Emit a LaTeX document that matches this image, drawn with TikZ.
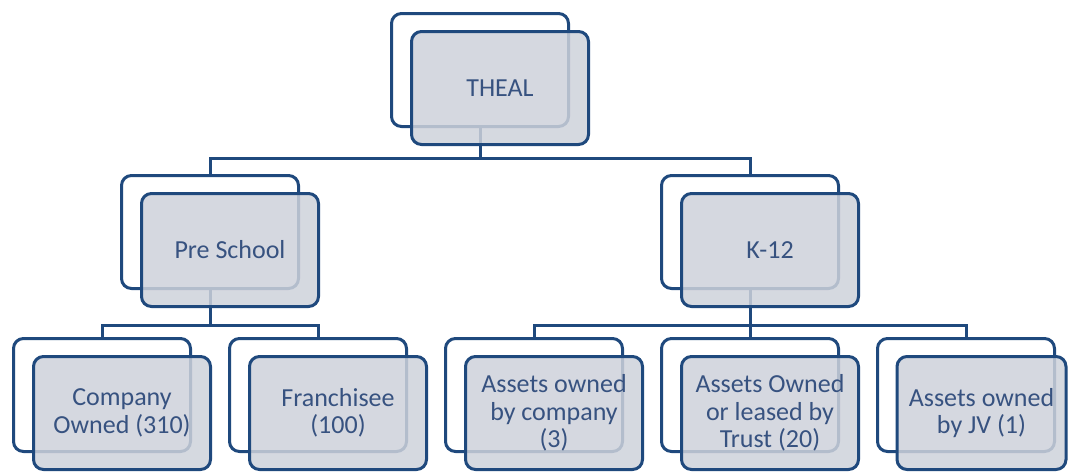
\documentclass[tikz,border=0pt]{standalone}
\usepackage{fontspec}
\setmainfont{Carlito}
\definecolor{orgline}{RGB}{31,73,125}
\definecolor{orgfill}{RGB}{206,210,219}
\definecolor{orgtext}{RGB}{55,82,128}

\begin{document}
\begin{tikzpicture}[x=0.75pt,y=-0.75pt,
	back/.style={draw=orgline,line width=2.25pt,rounded corners=7.5pt,fill=white,minimum width=132.75pt,minimum height=84.75pt,inner sep=0pt},
	front/.style={back,fill=orgfill,fill opacity=0.85,text opacity=1,text=orgtext,align=center,font=\fontsize{19.5}{20.6}\selectfont},
	link/.style={draw=orgline,line width=2.25pt}]
		\useasboundingbox (0,0) rectangle (1069,471);
		% back boxes
		\node[back] (theal-b) at (480,70) {};
		\node[back] (pre-b) at (210,232) {};
		\node[back] (k12-b) at (750,232) {};
		\node[back] (own-b) at (102,395) {};
		\node[back] (fran-b) at (318,395) {};
		\node[back] (comp-b) at (534,395) {};
		\node[back] (trust-b) at (750,395) {};
		\node[back] (jv-b) at (966,395) {};
		% connectors
		\coordinate (top-bus) at (480,158);
		\coordinate (pre-bus) at (210,325);
		\coordinate (k12-bus) at (750,325);
		\draw[link] (theal-b.south) -- (top-bus) -| (pre-b.north);
		\draw[link] (top-bus) -| (k12-b.north);
		\draw[link] (pre-b.south) -- (pre-bus) -| (own-b.north);
		\draw[link] (pre-bus) -| (fran-b.north);
		\draw[link] (k12-b.south) -- (k12-bus) -| (comp-b.north);
		\draw[link] (k12-bus) -- (trust-b.north);
		\draw[link] (k12-bus) -| (jv-b.north);
		% front boxes
		\node[front] (theal) at (500,88) {THEAL};
		\node[front] (pre) at (230,250) {Pre School};
		\node[front] (k12) at (770,250) {K-12};
		\node[front] (own) at (122,413) {Company\\Owned (310)};
		\node[front] (fran) at (338,413) {Franchisee\\(100)};
		\node[front] (comp) at (554,413) {Assets owned\\by company\\(3)};
		\node[front] (trust) at (770,413) {Assets Owned\\or leased by\\Trust (20)};
		\node[front,minimum width=126.75pt] (jv) at (981.5,413) {Assets owned\\by JV (1)};
\end{tikzpicture}
\end{document}
